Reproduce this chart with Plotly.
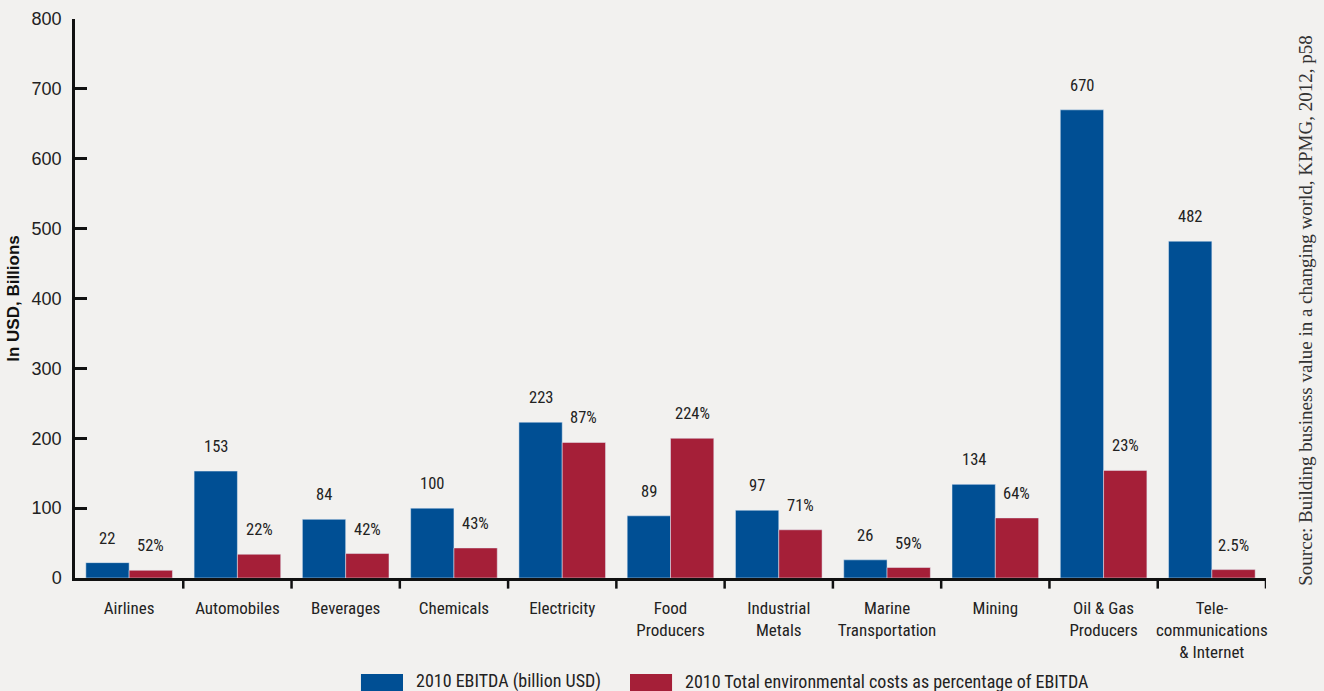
import plotly.graph_objects as go

categories = ["Airlines", "Automobiles", "Beverages", "Chemicals", "Electricity",
              "Food<br>Producers", "Industrial<br>Metals", "Marine<br>Transportation",
              "Mining", "Oil & Gas<br>Producers", "Tele-<br>communications<br>& Internet"]
ebitda = [22, 153, 84, 100, 223, 89, 97, 26, 134, 670, 482]
env_costs = [11, 34, 35, 43, 194, 200, 69, 15, 86, 154, 12]
ebitda_labels = ["22", "153", "84", "100", "223", "89", "97", "26", "134", "670", "482"]
env_pct_labels = ["52%", "22%", "42%", "43%", "87%", "224%", "71%", "59%", "64%", "23%", "2.5%"]
y_ticks = [0, 100, 200, 300, 400, 500, 600, 700, 800]

BLUE = "#004f94"
RED = "#a51f38"
BG = "#f2f1ef"
COND = "Liberation Sans Narrow, Arial Narrow, Roboto Condensed, sans-serif"
REG = "Liberation Sans, Arial, sans-serif"

fig = go.Figure()
fig.add_trace(go.Bar(x=list(range(len(categories))), y=ebitda, marker_color=BLUE,
                     name="2010 EBITDA (billion USD)", showlegend=False))
fig.add_trace(go.Bar(x=list(range(len(categories))), y=env_costs, marker_color=RED,
                     name="2010 Total environmental costs as percentage of EBITDA", showlegend=False))

annotations = []
for i in range(len(categories)):
    annotations.append(dict(x=i - 0.2, y=ebitda[i], xref="x", yref="y", text=ebitda_labels[i],
                            showarrow=False, yanchor="bottom", yshift=13,
                            font=dict(family=COND, size=16.5, color="#222")))
    annotations.append(dict(x=i + 0.2, y=env_costs[i], xref="x", yref="y", text=env_pct_labels[i],
                            showarrow=False, yanchor="bottom", yshift=13,
                            font=dict(family=COND, size=16.5, color="#222")))

# source note
annotations.append(dict(x=1.0335, y=0.478, xref="paper", yref="paper",
                        text="Source: Building business value in a changing world, KPMG, 2012, p58",
                        textangle=-90, showarrow=False, xanchor="center", yanchor="middle",
                        font=dict(family="Liberation Serif, Times New Roman, serif", size=19, color="#333")))

# manual legend
shapes = [
    dict(type="rect", xref="paper", yref="paper", x0=0.2401, x1=0.2754, y0=-0.21, y1=-0.1717,
         fillcolor=BLUE, line=dict(width=0)),
    dict(type="rect", xref="paper", yref="paper", x0=0.466, x1=0.5013, y0=-0.21, y1=-0.1717,
         fillcolor=RED, line=dict(width=0)),
]
annotations.append(dict(x=0.2846, y=-0.185, xref="paper", yref="paper", text="2010 EBITDA (billion USD)",
                        showarrow=False, xanchor="left", yanchor="middle",
                        font=dict(family=COND, size=18, color="#222")))
annotations.append(dict(x=0.5105, y=-0.185, xref="paper", yref="paper",
                        text="2010 Total environmental costs as percentage of EBITDA",
                        showarrow=False, xanchor="left", yanchor="middle",
                        font=dict(family=COND, size=18, color="#222")))

fig.update_layout(
    width=1324, height=691,
    margin=dict(l=75, r=58, t=19, b=113, autoexpand=False),
    paper_bgcolor=BG, plot_bgcolor=BG,
    barmode="group", bargap=0.2, bargroupgap=0,
    annotations=annotations, shapes=shapes,
    xaxis=dict(
        type="linear", range=[-0.5, 10.5], automargin=False,
        tickmode="array", tickvals=list(range(len(categories))), ticktext=categories,
        ticks="", showline=True, linecolor="#111", linewidth=2.5, showgrid=False, zeroline=False,
        tickfont=dict(family=COND, size=17, color="#222"), ticklabelstandoff=13,
    ),
    yaxis=dict(
        range=[0, 800], automargin=False, tickmode="array", tickvals=y_ticks,
        ticks="inside", ticklen=12, tickwidth=2.5, tickcolor="#111",
        showline=True, linecolor="#111", linewidth=2.5, showgrid=False, zeroline=False,
        tickfont=dict(family=REG, size=18, color="#222"), ticklabelstandoff=7,
        title=dict(text="<b>In USD, Billions</b>", font=dict(family=REG, size=17, color="#111"), standoff=8),
    ),
)

# boundary ticks on x axis (pointing down)
for b in range(1, len(categories) + 1):
    fig.add_shape(type="line", xref="x", yref="paper", x0=b - 0.5, x1=b - 0.5, y0=0, y1=-0.019,
                  line=dict(color="#111", width=2.5))

fig.write_html("out.html", config={"displayModeBar": False},
               post_script="document.body.style.margin='0';document.body.style.overflow='hidden';document.body.style.background='#f2f1ef';")
